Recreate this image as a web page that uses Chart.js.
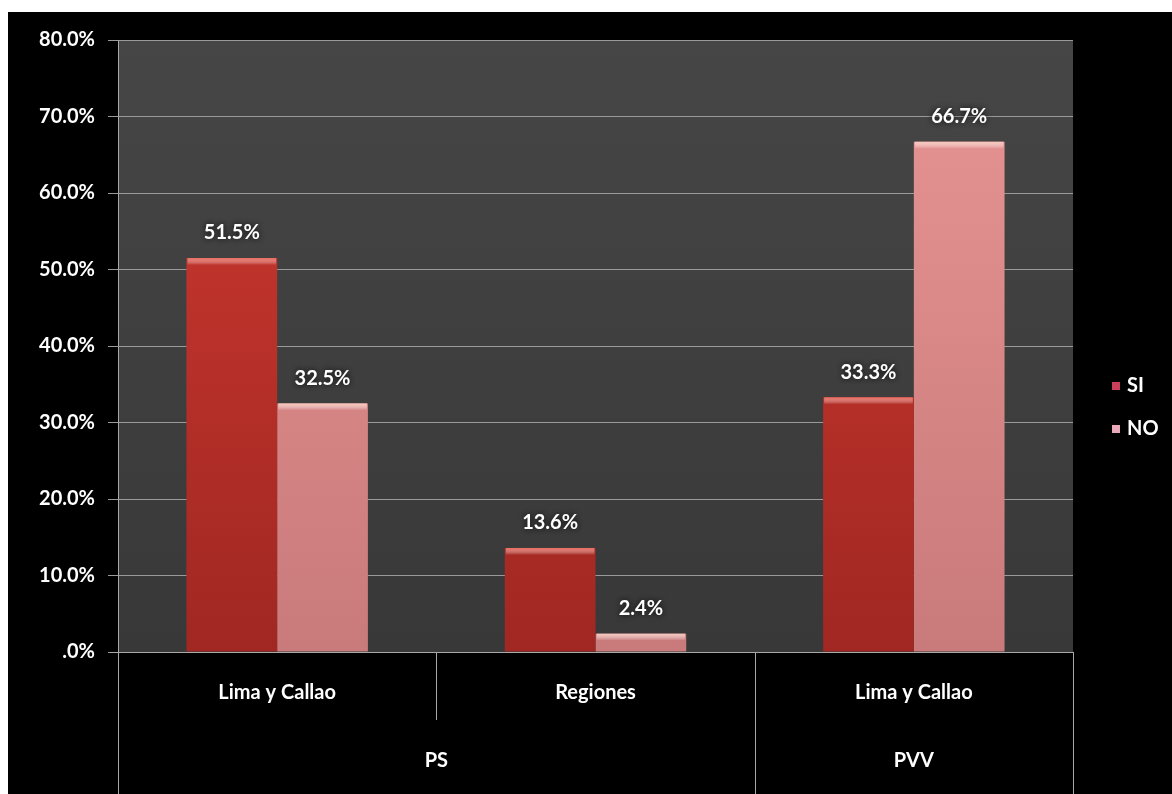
<!DOCTYPE html>
<html>
<head>
<meta charset="utf-8">
<script src="https://cdn.jsdelivr.net/npm/chart.js@4.4.1/dist/chart.umd.min.js"></script>
<style>
    html, body { margin: 0; padding: 0; background: #ffffff; }
    #wrap { position: absolute; left: 8px; top: 12px; width: 1164px; height: 782px; background: #000000; }
</style>
</head>
<body>
<div id="wrap"><canvas id="chart"></canvas></div>
<script>
var categories = ['Lima y Callao', 'Regiones', 'Lima y Callao'];
var groups = ['PS', 'PS', 'PVV'];
var siValues = [51.5, 13.6, 33.3];
var noValues = [32.5, 2.4, 66.7];
var seriesNames = ['SI', 'NO'];
var yTicks = [0, 10, 20, 30, 40, 50, 60, 70, 80];

var FONT = 'Lato, "Open Sans", sans-serif';
var FONT_SIZE = 20;

var barColors = {
    SI: { top: '#cf3a31', bottom: '#a12722', light: '#ec6a5e', key: '#c8405a' },
    NO: { top: '#e89494', bottom: '#c97a7a', light: '#f8c6bc', key: '#eaa8b8' }
};

var formatPct = function (v) {
    return v === 0 ? '.0%' : v.toFixed(1) + '%';
};

var barFill = function (name) {
    return function (ctx) {
        var area = ctx.chart.chartArea;
        if (!area) { return barColors[name].top; }
        var g = ctx.chart.ctx.createLinearGradient(0, area.top, 0, area.bottom);
        g.addColorStop(0, barColors[name].top);
        g.addColorStop(1, barColors[name].bottom);
        return g;
    };
};

// dark grey plot background
var plotBg = {
    id: 'plotBg',
    beforeDraw: function (chart) {
        var a = chart.chartArea, c = chart.ctx;
        var g = c.createLinearGradient(0, a.top, 0, a.bottom);
        g.addColorStop(0, '#464646');
        g.addColorStop(1, '#383838');
        c.save();
        c.fillStyle = g;
        c.fillRect(a.left, a.top, a.right - a.left, a.bottom - a.top);
        c.restore();
    }
};

// lighter strip on top of each bar + value labels
var barExtras = {
    id: 'barExtras',
    afterDatasetsDraw: function (chart) {
        var c = chart.ctx;
        c.save();
        chart.data.datasets.forEach(function (ds, i) {
            var meta = chart.getDatasetMeta(i);
            meta.data.forEach(function (bar, j) {
                var w = bar.width;
                var g = c.createLinearGradient(0, bar.y, 0, bar.y + 7);
                g.addColorStop(0, barColors[ds.label].light);
                g.addColorStop(1, 'rgba(255,255,255,0)');
                c.fillStyle = g;
                c.fillRect(bar.x - w / 2 + 1, bar.y, w - 2, 7);

                c.shadowColor = 'rgba(0,0,0,0.9)';
                c.shadowBlur = 6;
                c.fillStyle = '#ffffff';
                c.font = 'bold ' + FONT_SIZE + 'px ' + FONT;
                c.textAlign = 'center';
                c.textBaseline = 'middle';
                c.fillText(formatPct(ds.data[j]), bar.x, bar.y - 25);
                c.shadowBlur = 0;
            });
        });
        c.restore();
    }
};

// two-level category frame below the plot, and the legend on the right
var frame = {
    id: 'frame',
    afterDraw: function (chart) {
        var c = chart.ctx, a = chart.chartArea, x = chart.scales.x;
        var bottom = chart.height;
        var half = (x.getPixelForValue(1) - x.getPixelForValue(0)) / 2;
        c.save();
        c.strokeStyle = '#a8a8a8';
        c.lineWidth = 1;
        c.beginPath();
        c.moveTo(a.left - 8, a.bottom + 0.5);
        c.lineTo(a.right, a.bottom + 0.5);
        for (var i = 0; i <= categories.length; i++) {
            var px = Math.round(i < categories.length ? x.getPixelForValue(i) - half : x.getPixelForValue(i - 1) + half) + 0.5;
            var edge = i === 0 || i === categories.length || groups[i] !== groups[i - 1];
            c.moveTo(px, a.bottom);
            c.lineTo(px, edge ? bottom : a.bottom + 68);
        }
        c.stroke();

        c.fillStyle = '#ffffff';
        c.font = 'bold ' + FONT_SIZE + 'px ' + FONT;
        c.textAlign = 'center';
        c.textBaseline = 'middle';
        var start = 0;
        for (var k = 1; k <= groups.length; k++) {
            if (k === groups.length || groups[k] !== groups[start]) {
                var cx = (x.getPixelForValue(start) + x.getPixelForValue(k - 1)) / 2;
                c.fillText(groups[start], cx, a.bottom + 109);
                start = k;
            }
        }

        c.textAlign = 'left';
        seriesNames.forEach(function (name, n) {
            var ly = 374 + n * 43;
            c.fillStyle = barColors[name].key;
            c.fillRect(1104, ly - 4, 8, 8);
            c.fillStyle = '#ffffff';
            c.fillText(name, 1119, ly);
        });
        c.restore();
    }
};

var ctx = document.getElementById('chart').getContext('2d');
var myChart = new Chart(ctx, {
    type: 'bar',
    data: {
        labels: categories,
        datasets: [
            { label: seriesNames[0], data: siValues, backgroundColor: barFill('SI') },
            { label: seriesNames[1], data: noValues, backgroundColor: barFill('NO') }
        ]
    },
    options: {
        responsive: true,
        maintainAspectRatio: false,
        animation: false,
        categoryPercentage: 0.57,
        barPercentage: 1.0,
        layout: { padding: { top: 28, right: 99, left: 0, bottom: 0 } },
        plugins: {
            legend: { display: false },
            tooltip: { enabled: false }
        },
        scales: {
            x: {
                grid: { display: false, drawTicks: false },
                border: { display: false },
                ticks: {
                    color: '#ffffff',
                    font: { family: FONT, size: FONT_SIZE, weight: 'bold' },
                    padding: 29,
                    maxRotation: 0
                },
                afterFit: function (s) { s.height = 142; }
            },
            y: {
                min: 0,
                max: 80,
                afterBuildTicks: function (s) {
                    s.ticks = yTicks.map(function (v) { return { value: v }; });
                },
                ticks: {
                    color: '#ffffff',
                    font: { family: FONT, size: FONT_SIZE, weight: 'bold' },
                    padding: 13,
                    callback: function (v) { return formatPct(v); }
                },
                grid: { color: '#9a9a9a', tickLength: 10, tickColor: '#9a9a9a' },
                border: { color: '#a8a8a8' },
                afterFit: function (s) { s.width = 110; }
            }
        }
    },
    plugins: [plotBg, barExtras, frame]
});
</script>
</body>
</html>
